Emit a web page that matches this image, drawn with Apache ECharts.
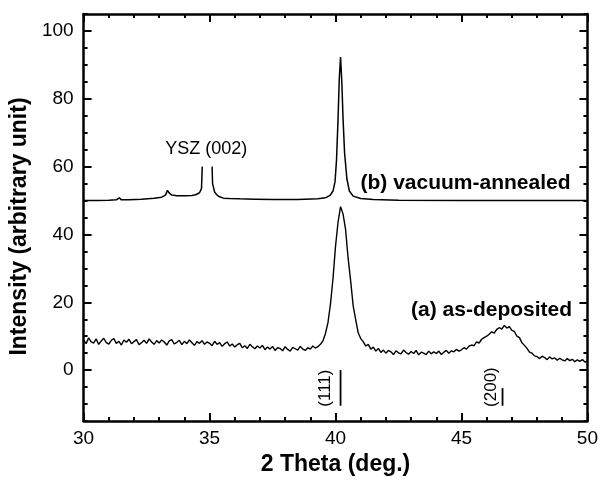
<!DOCTYPE html>
<html>
<head>
<meta charset="utf-8">
<script src="https://cdn.jsdelivr.net/npm/echarts@6/dist/echarts.min.js"></script>
<style>
  html, body { margin: 0; background: #fff; }
  #XrdChart { width: 601px; height: 481px; }
</style>
</head>
<body>
<div id="XrdChart"></div>
<script>
// (a) as-deposited, one value every 0.1 deg from 30.0 to 50.0
const asDepStart = 30;
const asDepStep = 0.1;
const asDeposited = [
  8.9, 7.8, 9.5, 8.3, 8.0, 9.2, 7.6, 8.6, 9.4, 8.1,
  7.7, 8.8, 9.3, 7.9, 8.5, 7.4, 8.9, 8.2, 9.1, 7.8,
  8.4, 9.0, 7.5, 8.1, 8.8, 7.9, 9.2, 8.3, 7.6, 8.7,
  8.0, 8.9, 8.3, 7.4, 8.6, 9.0, 7.7, 8.2, 8.8, 7.5,
  8.5, 7.8, 8.9, 8.1, 7.3, 8.4, 7.9, 8.7, 7.6, 8.3,
  7.9, 7.2, 8.5, 7.6, 8.1, 7.0, 7.8, 8.3, 7.1, 7.7,
  6.8, 7.5, 7.9, 6.6, 7.2, 6.4, 7.6, 6.9, 6.3, 7.1,
  6.5, 7.3, 6.0, 6.8, 6.2, 7.0, 5.8, 6.6, 6.4, 5.7,
  6.9, 6.1, 5.6, 6.7, 6.3, 5.9, 7.0, 6.2, 5.8, 6.6,
  6.2, 7.1, 6.5, 6.9, 7.6, 8.6, 10.8, 14.0, 19.5, 27.0,
  36.5, 43.6, 48.2, 46.0, 41.4, 33.0, 26.4, 19.0, 14.9, 11.0,
  9.3, 8.4, 7.1, 7.6, 6.2, 6.8, 5.6, 6.4, 5.2, 5.9,
  5.0, 5.8, 5.4, 4.6, 5.7, 5.1, 4.8, 5.9, 5.2, 4.7,
  5.5, 4.9, 5.8, 4.5, 5.3, 5.0, 4.6, 5.6, 4.8, 5.4,
  4.9, 5.6, 4.6, 5.3, 5.8, 5.0, 5.7, 5.4, 6.1, 5.6,
  6.0, 6.6, 6.2, 7.1, 7.4, 7.2, 8.3, 8.0, 9.1, 9.6,
  10.0, 10.6, 11.3, 10.9, 12.0, 12.5, 12.1, 13.2, 12.4, 12.8,
  11.7, 11.4, 10.0, 9.6, 8.1, 7.3, 6.4, 5.3, 5.0, 4.2,
  4.0, 3.4, 4.1, 3.7, 3.1, 3.9, 3.3, 3.6, 2.9, 3.5,
  3.0, 2.7, 3.4, 2.8, 3.2, 2.5, 3.0, 2.6, 3.1, 2.4,
  2.6
];

// (b) vacuum-annealed; null = the YSZ substrate peak is cut off
const annealedX = [
  30, 30.5, 31, 31.3, 31.42, 31.5, 31.8, 32.3, 32.8, 33.1,
  33.25, 33.33, 33.4, 33.5, 33.7, 34.0, 34.3, 34.45, 34.6, 34.68,
  34.71, 34.9, 35.1, 35.12, 35.2, 35.3, 35.4, 35.55, 35.8, 36.2,
  36.8, 37.5, 38.5, 39.3, 39.6, 39.78, 39.9, 39.98, 40.04, 40.1,
  40.15, 40.2, 40.25, 40.3, 40.36, 40.45, 40.55, 40.7, 41.0, 41.5,
  42.5, 45, 47.5, 50
];
const annealedY = [
  50.0, 50.0, 50.1, 50.2, 50.8, 50.2, 50.2, 50.4, 50.7, 51.0,
  51.6, 53.0, 52.2, 51.6, 51.4, 51.4, 51.5, 51.7, 52.3, 53.5,
  60.0, null, 60.0, 55.0, 52.5, 51.6, 51.1, 50.7, 50.6, 50.5,
  50.4, 50.3, 50.3, 50.5, 50.8, 51.5, 52.8, 55.5, 62.0, 74.0,
  86.0, 92.3, 85.0, 74.0, 64.0, 56.5, 52.8, 51.3, 50.6, 50.3,
  50.1, 50.0, 50.0, 50.0
];

// reference sticks under the pattern
const refName = ['(111)', '(200)'];
const refPos = [40.2, 46.63];
const refTop = [0, -5.3];
const refBase = -10.5;

// y tick labels
const yLabels = [0, 20, 40, 60, 80, 100];

// text notes on the plot
const noteText = ['YSZ (002)', '(b) vacuum-annealed', '(a) as-deposited', '(111)', '(200)'];
const noteX = [34.87, 49.33, 49.39, 39.59, 46.17];
const noteY = [65.1, 55.0, 17.8, -5.3, -5.0];

const font = '"Liberation Sans", Arial, sans-serif';
const black = '#000';

const XrdChart = echarts.init(document.getElementById('XrdChart'));

let aData = asDeposited.map((v, i) => [+(asDepStart + i * asDepStep).toFixed(1), v]);
let bData = annealedX.map((x, i) => [x, annealedY[i] === null ? '-' : annealedY[i]]);

let stickSeries = refPos.map((x, i) => ({
  name: refName[i],
  type: 'line',
  data: [[x, refTop[i]], [x, refBase]],
  symbol: 'none',
  silent: true,
  lineStyle: { color: black, width: 1.8 }
}));

let noteStyles = [
  { fontSize: 18, fontWeight: 'normal', align: 'center', rotate: 0 },
  { fontSize: 21, fontWeight: 'bold', align: 'right', rotate: 0 },
  { fontSize: 21, fontWeight: 'bold', align: 'right', rotate: 0 },
  { fontSize: 17, fontWeight: 'normal', align: 'center', rotate: 90 },
  { fontSize: 17, fontWeight: 'normal', align: 'center', rotate: 90 }
];

let notes = noteText.map((t, i) => ({
  value: [noteX[i], noteY[i]],
  label: {
    show: true,
    position: 'inside',
    formatter: t,
    color: black,
    opacity: 1,
    fontFamily: font,
    fontSize: noteStyles[i].fontSize,
    fontWeight: noteStyles[i].fontWeight,
    align: noteStyles[i].align,
    verticalAlign: 'middle',
    rotate: noteStyles[i].rotate
  }
}));

function xAxisDef(pos, withLabels) {
  return {
    type: 'value',
    position: pos,
    min: 30,
    max: 50,
    interval: 5,
    axisLine: { onZero: false, lineStyle: { color: black, width: 2.5 } },
    axisTick: { inside: true, length: 8, lineStyle: { color: black, width: 2 } },
    minorTick: { show: true, splitNumber: 5, length: 4, lineStyle: { color: black, width: 2 } },
    axisLabel: { show: withLabels, color: black, fontSize: 19, fontFamily: font, margin: 8 },
    splitLine: { show: false },
    name: withLabels ? '2 Theta (deg.)' : '',
    nameLocation: 'middle',
    nameGap: 32,
    nameTextStyle: { color: black, fontSize: 23, fontWeight: 'bold', fontFamily: font }
  };
}

function yAxisDef(pos, major, withLabels) {
  return {
    type: 'value',
    position: pos,
    min: -15,
    max: 105,
    interval: 5,
    axisLine: { show: !major, onZero: false, lineStyle: { color: black, width: 2.5 } },
    axisTick: major
      ? { inside: true, length: 8, customValues: yLabels, lineStyle: { color: black, width: 2 } }
      : { inside: true, length: 4, lineStyle: { color: black, width: 2 } },
    axisLabel: withLabels
      ? { show: true, customValues: yLabels, color: black, fontSize: 19, fontFamily: font, margin: 10 }
      : { show: false },
    splitLine: { show: false },
    name: withLabels ? 'Intensity (arbitrary unit)' : '',
    nameLocation: 'middle',
    nameGap: 45,
    nameTextStyle: {
      color: black, fontSize: 23, fontWeight: 'bold', fontFamily: font,
      padding: [0, 18, 0, 0]
    }
  };
}

let option = {
  backgroundColor: '#fff',
  animation: false,
  grid: { left: 83, right: 12, top: 14, bottom: 58, containLabel: false },
  xAxis: [xAxisDef('bottom', true), xAxisDef('top', false)],
  yAxis: [
    yAxisDef('left', false, true),
    yAxisDef('left', true, false),
    yAxisDef('right', false, false),
    yAxisDef('right', true, false)
  ],
  series: [
    {
      name: '(a) as-deposited',
      type: 'line',
      data: aData,
      symbol: 'none',
      lineStyle: { color: black, width: 1.4 }
    },
    {
      name: '(b) vacuum-annealed',
      type: 'line',
      data: bData,
      symbol: 'none',
      connectNulls: false,
      lineStyle: { color: black, width: 1.5 }
    },
    ...stickSeries,
    {
      name: 'notes',
      type: 'scatter',
      data: notes,
      symbolSize: 0,
      itemStyle: { opacity: 1 },
      silent: true
    }
  ]
};

XrdChart.setOption(option);
</script>
</body>
</html>
